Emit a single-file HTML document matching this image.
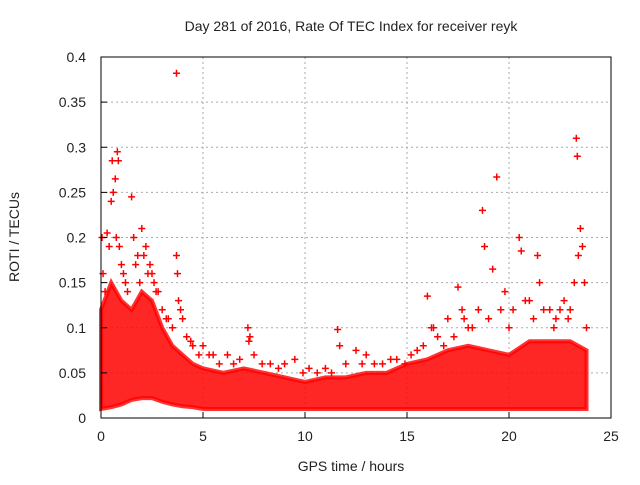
<!DOCTYPE html>
<html><head><meta charset="utf-8">
<style>
body{margin:0;background:#fff;}
svg text{font-family:"Liberation Sans",sans-serif;fill:#222;}
</style></head>
<body>
<svg id="chart" width="640" height="480" viewBox="0 0 640 480">
<rect width="640" height="480" fill="#fff"/>
<text x="351" y="31" font-size="14" text-anchor="middle">Day 281 of 2016, Rate Of TEC Index for receiver reyk</text>
<g id="grid"></g>
<g id="band"></g>
<g id="marks"></g>
<rect x="101" y="57" width="510" height="361" fill="none" stroke="#000" stroke-width="1"/>
<g id="axes"></g>
<text x="351" y="471" font-size="14" text-anchor="middle">GPS time / hours</text>
<text transform="translate(19,237) rotate(-90)" font-size="14" text-anchor="middle">ROTI / TECUs</text>
</svg>
<script>
const xTicks=[0,5,10,15,20,25];
const yTicks=[0,0.05,0.1,0.15,0.2,0.25,0.3,0.35,0.4];
const yTickLabels=["0","0.05","0.1","0.15","0.2","0.25","0.3","0.35","0.4"];
const bandHours=[0,0.5,1,1.5,2,2.5,3,3.5,4,4.5,5,6,7,8,9,10,11,12,13,14,15,16,17,18,19,20,21,22,23,23.8];
const bandLow=[0.01,0.012,0.015,0.02,0.022,0.022,0.018,0.015,0.013,0.012,0.01,0.01,0.01,0.01,0.01,0.01,0.01,0.01,0.01,0.01,0.01,0.01,0.01,0.01,0.01,0.01,0.01,0.01,0.01,0.01];
const bandHigh=[0.12,0.15,0.13,0.12,0.14,0.13,0.1,0.08,0.07,0.06,0.055,0.05,0.055,0.05,0.045,0.04,0.045,0.045,0.05,0.05,0.06,0.065,0.075,0.08,0.075,0.07,0.085,0.085,0.085,0.075];
const ptHours=[0.05,0.1,0.2,0.3,0.4,0.5,0.55,0.6,0.7,0.75,0.8,0.85,0.9,1.0,1.1,1.2,1.3,1.5,1.6,1.7,1.8,1.9,2.0,2.1,2.2,2.3,2.4,2.5,2.6,2.7,2.8,3.0,3.2,3.3,3.5,3.7,3.7,3.75,3.8,3.9,4.0,4.2,4.4,4.5,4.8,5.0,5.3,5.5,5.8,6.2,6.5,6.8,7.2,7.3,7.25,7.5,7.9,8.3,8.7,9.0,9.5,9.9,10.2,10.6,11.0,11.3,11.6,11.7,12.0,12.5,12.8,13.0,13.4,13.8,14.2,14.5,14.9,15.2,15.5,15.8,16.0,16.2,16.3,16.5,16.8,17.0,17.3,17.5,17.7,17.8,18.0,18.2,18.5,18.7,18.8,19.0,19.2,19.4,19.6,19.8,20.0,20.2,20.5,20.6,20.8,21.0,21.2,21.4,21.5,21.7,22.0,22.2,22.3,22.5,22.7,22.9,23.0,23.2,23.3,23.35,23.4,23.5,23.6,23.7,23.8];
const ptValues=[0.2,0.16,0.14,0.205,0.19,0.24,0.285,0.25,0.265,0.2,0.295,0.285,0.19,0.17,0.16,0.15,0.14,0.245,0.2,0.17,0.18,0.15,0.21,0.18,0.19,0.16,0.17,0.16,0.15,0.14,0.14,0.12,0.11,0.11,0.1,0.382,0.18,0.16,0.13,0.12,0.11,0.09,0.085,0.08,0.07,0.08,0.07,0.07,0.06,0.07,0.06,0.065,0.1,0.09,0.085,0.07,0.06,0.06,0.055,0.06,0.065,0.05,0.055,0.05,0.055,0.05,0.098,0.08,0.06,0.075,0.06,0.07,0.06,0.06,0.065,0.065,0.06,0.07,0.075,0.08,0.135,0.1,0.1,0.09,0.08,0.11,0.09,0.145,0.12,0.11,0.1,0.1,0.12,0.23,0.19,0.11,0.165,0.267,0.12,0.14,0.1,0.12,0.2,0.185,0.13,0.13,0.11,0.18,0.15,0.12,0.12,0.1,0.11,0.12,0.13,0.11,0.12,0.15,0.31,0.29,0.18,0.21,0.19,0.15,0.1];
const X=h=>101+h*20.4, Y=v=>418-v*902.5;
const ns="http://www.w3.org/2000/svg";
const g=document.getElementById('grid'),ax=document.getElementById('axes'),band=document.getElementById('band'),marks=document.getElementById('marks');
function mk(t,a,p){const e=document.createElementNS(ns,t);for(const k in a)e.setAttribute(k,a[k]);p.appendChild(e);return e;}
xTicks.forEach(t=>{
 if(t>0&&t<25){const l=mk('line',{x1:X(t),x2:X(t),y1:57,y2:418,stroke:'#aaa','stroke-dasharray':'2,3'},g);
 
 }
 const tx=mk('text',{x:X(t),y:441,'font-size':14,'text-anchor':'middle'},ax);tx.textContent=t;
 
 
 mk('line',{x1:X(t),x2:X(t),y1:418,y2:412,stroke:'#000'},ax);
});
yTicks.forEach((t,i)=>{
 if(t>0&&t<0.4){const l=mk('line',{x1:101,x2:611,y1:Y(t),y2:Y(t),stroke:'#aaa','stroke-dasharray':'2,3'},g);
 
 }
 const tx=mk('text',{x:86,y:Y(t)+5,'font-size':14,'text-anchor':'end'},ax);tx.textContent=yTickLabels[i];
 
 
 mk('line',{x1:101,x2:107,y1:Y(t),y2:Y(t),stroke:'#000'},ax);
});
let d='M'+bandHours.map((h,i)=>X(h)+','+Y(bandHigh[i])).join('L');
for(let i=bandHours.length-1;i>=0;i--)d+='L'+X(bandHours[i])+','+Y(bandLow[i]);
const bp=mk('path',{d:d+'Z',fill:'#f00','fill-opacity':0.85,stroke:'#f00','stroke-width':4,'stroke-opacity':0.8},band);


ptHours.forEach((h,i)=>{
 const x=X(h),y=Y(ptValues[i]);
 const p=mk('path',{d:`M${x-3.5},${y}h7M${x},${y-3.5}v7`,stroke:'#f00','stroke-width':1.5},marks);
 
 
});
</script>
</body></html>
